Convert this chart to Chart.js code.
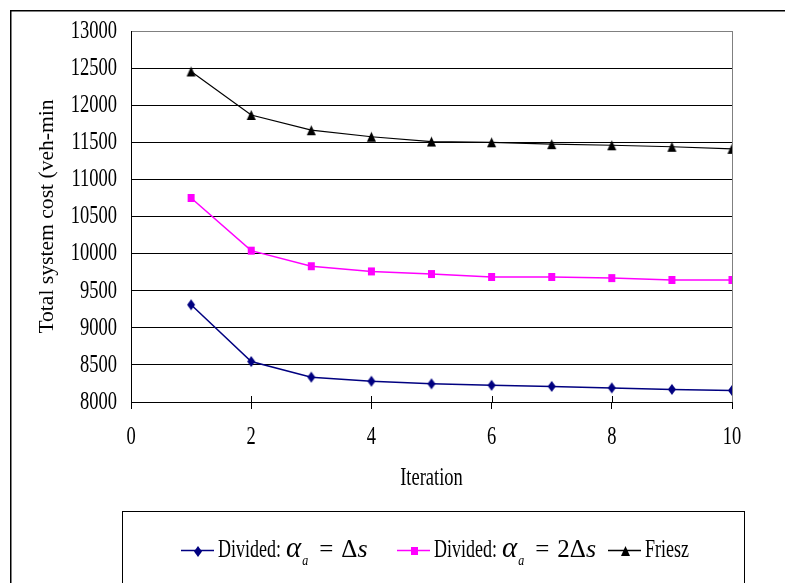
<!DOCTYPE html>
<html>
<head>
<meta charset="utf-8">
<script src="https://cdn.jsdelivr.net/npm/chart.js@4.4.1/dist/chart.umd.min.js"></script>
<style>
  html, body { margin: 0; padding: 0; background: #fff; }
  #wrap { width: 785px; height: 583px; }
</style>
</head>
<body>
<div id="wrap"><canvas id="c" width="785" height="583"></canvas></div>
<script>
// ---- data ----
const iterations = [1, 2, 3, 4, 5, 6, 7, 8, 9, 10];
const dividedAlpha1 = [9310, 8545, 8335, 8280, 8245, 8225, 8210, 8190, 8170, 8155];
const dividedAlpha2 = [10750, 10040, 9830, 9760, 9725, 9685, 9685, 9670, 9645, 9645];
const friesz = [12455, 11868, 11663, 11575, 11510, 11500, 11475, 11460, 11440, 11412];
const seriesLabels = ["Divided: \u03b1a = \u0394s", "Divided: \u03b1a = 2\u0394s", "Friesz"];
// legend text pieces: [prefix, greek, subscript, "=", rhs, italic var]
const legendRich = [
  ["Divided:", "\u03b1", "a", "=", "\u0394", "s"],
  ["Divided:", "\u03b1", "a", "=", "2\u0394", "s"],
  ["Friesz"]
];
const xTicks = { min: 0, max: 10, step: 2 };
const yTicks = { min: 8000, max: 13000, step: 500 };
const xTitle = "Iteration";
const yTitle = "Total system cost (veh-min";

const SERIF = "'Liberation Serif', 'Times New Roman', serif";
const STRETCH = 1.4;

function pts(ys) { return iterations.map((x, i) => ({ x: x, y: ys[i] })); }

const canvas = document.getElementById('c');
const ctx0 = canvas.getContext('2d');
const rawFillText = ctx0.fillText.bind(ctx0);
// draw text stretched vertically on screen (the reference picture is stretched)
function stretchedFillText(ctx, t, x, y, mw, sy) {
  const m = ctx.getTransform();
  const p = m.transformPoint(new DOMPoint(x, y));
  ctx.save();
  ctx.setTransform(1, 0, 0, 1, 0, 0);
  ctx.translate(p.x, p.y);
  ctx.scale(1, sy);
  ctx.translate(-p.x, -p.y);
  ctx.transform(m.a, m.b, m.c, m.d, m.e, m.f);
  if (mw === undefined) rawFillText(t, x, y); else rawFillText(t, x, y, mw);
  ctx.restore();
}
ctx0.fillText = function (t, x, y, mw) {
  const rotated = Math.abs(ctx0.getTransform().b) > 0.5;
  stretchedFillText(ctx0, t, x, y, mw, rotated ? 1.08 : STRETCH);
};

// stretched marker images
function markerCanvas(kind, color, w, h) {
  const c = document.createElement('canvas');
  c.width = w + 2; c.height = h + 2;
  const g = c.getContext('2d');
  g.fillStyle = color;
  g.beginPath();
  const cx = (w + 2) / 2, cy = (h + 2) / 2;
  if (kind === 'diamond') {
    g.moveTo(cx, cy - h / 2); g.lineTo(cx + w / 2, cy); g.lineTo(cx, cy + h / 2); g.lineTo(cx - w / 2, cy);
  } else if (kind === 'square') {
    g.rect(cx - w / 2, cy - h / 2, w, h);
  } else {
    g.moveTo(cx, cy - h / 2); g.lineTo(cx + w / 2, cy + h / 2); g.lineTo(cx - w / 2, cy + h / 2);
  }
  g.closePath();
  g.fill();
  return c;
}
const mDiamond = markerCanvas('diamond', '#000080', 8, 11);
const mSquare = markerCanvas('square', '#FF00FF', 7, 8);
const mTriangle = markerCanvas('triangle', '#000000', 9, 10);

const framePlugin = {
  id: 'frame',
  beforeDraw(chart) {
    const ctx = chart.ctx;
    ctx.save();
    ctx.fillStyle = '#fff';
    ctx.fillRect(0, 0, chart.width, chart.height);
    ctx.strokeStyle = '#000';
    ctx.lineWidth = 1.5;
    ctx.strokeRect(10.75, 10.75, 900, 900);
    ctx.restore();
  },
  beforeDatasetsDraw(chart) {
    const ctx = chart.ctx;
    const a = chart.chartArea;
    const xs = chart.scales.x;
    ctx.save();
    ctx.strokeStyle = '#808080';
    ctx.lineWidth = 1;
    ctx.beginPath();
    ctx.moveTo(Math.round(a.right) + 0.5, a.top);
    ctx.lineTo(Math.round(a.right) + 0.5, a.bottom);
    ctx.stroke();
    ctx.strokeStyle = '#000';
    ctx.beginPath();
    for (let v = xTicks.min + xTicks.step; v < xTicks.max; v += xTicks.step) {
      const px = Math.round(xs.getPixelForValue(v)) + 0.5;
      ctx.moveTo(px, a.bottom - 6);
      ctx.lineTo(px, a.bottom);
    }
    ctx.stroke();
    ctx.restore();
  },
  afterDraw(chart) {
    const ctx = chart.ctx;
    ctx.save();
    ctx.strokeStyle = '#000';
    ctx.lineWidth = 1;
    ctx.strokeRect(122.5, 511.5, 622, 120);
    const cy = 550;
    const starts = [181, 397, 608];
    const markers = [mDiamond, mSquare, mTriangle];
    // style per piece: font, stretch, dy, gap before
    const styles = [
      { font: '18px ' + SERIF, sy: 1.4, dy: 0, gap: 4 },
      { font: 'italic 29px ' + SERIF, sy: 1.0, dy: -1, gap: 5 },
      { font: 'italic 12px ' + SERIF, sy: 1.2, dy: 11, gap: 1 },
      { font: '25px ' + SERIF, sy: 1.0, dy: 0, gap: 11 },
      { font: '25px ' + SERIF, sy: 1.0, dy: 0, gap: 8 },
      { font: 'italic 26px ' + SERIF, sy: 1.0, dy: 0, gap: 0 }
    ];
    ctx.textBaseline = 'middle';
    ctx.textAlign = 'left';
    chart.data.datasets.forEach((ds, i) => {
      let x = starts[i];
      ctx.strokeStyle = ds.borderColor;
      ctx.lineWidth = 1.5;
      ctx.beginPath();
      ctx.moveTo(x, cy + 0.5);
      ctx.lineTo(x + 33, cy + 0.5);
      ctx.stroke();
      const mk = markers[i];
      ctx.drawImage(mk, Math.round(x + 17 - mk.width / 2), Math.round(cy - mk.height / 2) + 1);
      x += 33;
      ctx.fillStyle = '#000';
      legendRich[i].forEach((t, k) => {
        const st = styles[k];
        ctx.font = st.font;
        x += st.gap;
        stretchedFillText(ctx, t, x, cy + st.dy, undefined, st.sy);
        x += ctx.measureText(t).width;
      });
    });
    ctx.restore();
  }
};

new Chart(ctx0, {
  type: 'line',
  data: {
    datasets: [
      {
        label: seriesLabels[0], data: pts(dividedAlpha1),
        borderColor: '#000080', backgroundColor: '#000080',
        borderWidth: 1.5, pointStyle: mDiamond, pointRadius: 5
      },
      {
        label: seriesLabels[1], data: pts(dividedAlpha2),
        borderColor: '#FF00FF', backgroundColor: '#FF00FF',
        borderWidth: 1.5, pointStyle: mSquare, pointRadius: 5
      },
      {
        label: seriesLabels[2], data: pts(friesz),
        borderColor: '#000000', backgroundColor: '#000000',
        borderWidth: 1.2, pointStyle: mTriangle, pointRadius: 5
      }
    ]
  },
  options: {
    responsive: false,
    animation: false,
    events: [],
    layout: { padding: { left: 0, top: 31, right: 53, bottom: 81 } },
    plugins: { legend: { display: false }, tooltip: { enabled: false } },
    elements: { line: { tension: 0 } },
    scales: {
      x: {
        type: 'linear', min: xTicks.min, max: xTicks.max,
        afterFit(s) { s.height = 100; },
        ticks: { stepSize: xTicks.step, color: '#000', padding: 17, maxRotation: 0,
                 font: { family: SERIF, size: 18.5 } },
        grid: { drawOnChartArea: false, drawTicks: true, tickLength: 7, color: '#000', lineWidth: 1 },
        border: { display: true, color: '#000', width: 1 },
        title: { display: true, text: xTitle, color: '#000', padding: { top: 0, bottom: 13 },
                 font: { family: SERIF, size: 18.5 } }
      },
      y: {
        type: 'linear', min: yTicks.min, max: yTicks.max,
        afterFit(s) { s.width = 131; },
        ticks: { stepSize: yTicks.step, color: '#000', padding: 14,
                 callback: (v) => String(v),
                 font: { family: SERIF, size: 18.5 } },
        grid: { drawTicks: false, lineWidth: 1,
                color: (c) => (c.tick && c.tick.value === yTicks.max) ? '#808080' : '#000' },
        border: { display: true, color: '#000', width: 1 },
        title: { display: true, text: yTitle, color: '#000', padding: { top: 36, bottom: 0 },
                 font: { family: SERIF, size: 20 } }
      }
    }
  },
  plugins: [framePlugin]
});
</script>
</body>
</html>
